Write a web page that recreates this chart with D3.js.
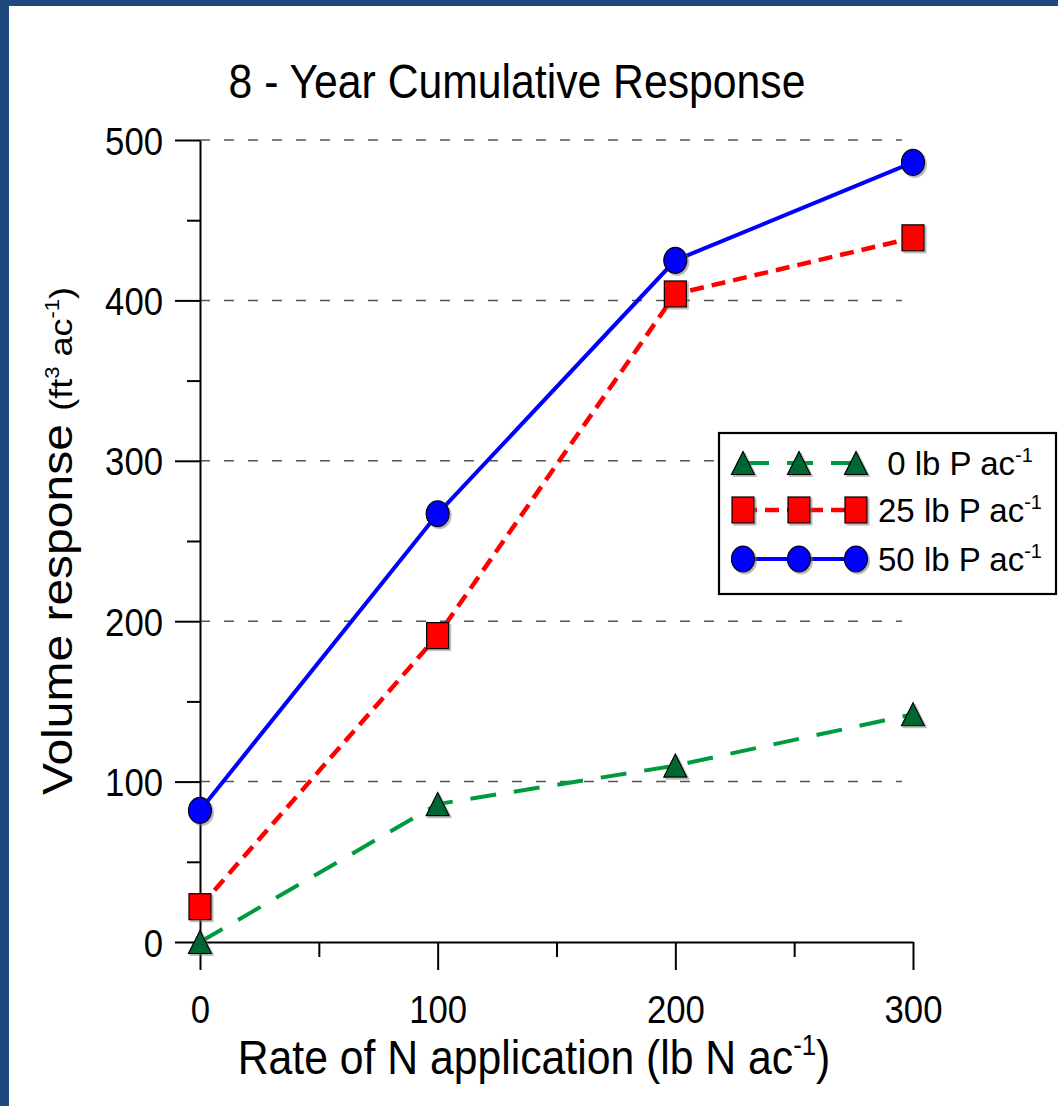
<!DOCTYPE html>
<html>
<head>
<meta charset="utf-8">
<script src="https://cdn.jsdelivr.net/npm/d3@7"></script>
<style>
  html, body { margin: 0; padding: 0; background: #ffffff; }
  svg { display: block; font-family: "Liberation Sans", Arial, sans-serif; }
</style>
</head>
<body>
<svg id="chart" width="1058" height="1106"></svg>
<script>
// ---- data ----
const nRates = [0, 100, 200, 300];
const p0Values = [0, 86, 110, 142];
const p25Values = [22, 191, 404, 439];
const p50Values = [82, 267, 425, 486];
const seriesLabels = ["0 lb P ac", "25 lb P ac", "50 lb P ac"];
const yMajorTicks = [0, 100, 200, 300, 400, 500];
const yMinorTicks = [50, 150, 250, 350, 450];
const yGridTicks = [100, 200, 300, 400, 500];
const xMajorTicks = [0, 100, 200, 300];
const xMinorTicks = [50, 150, 250];
const titleText = "8 - Year Cumulative Response";

// ---- layout ----
const W = 1058, H = 1106;
const svg = d3.select("#chart");
const SX = 0.89; // horizontal compression of the original rendering

svg.append("rect").attr("x", 0).attr("y", 0).attr("width", W).attr("height", H).attr("fill", "#ffffff");
svg.append("rect").attr("x", 0).attr("y", 0).attr("width", 9).attr("height", H).attr("fill", "#1F497D");
svg.append("rect").attr("x", 0).attr("y", 0).attr("width", W).attr("height", 6).attr("fill", "#1F497D");

const defs = svg.append("defs");
const f = defs.append("filter").attr("id", "shadow").attr("x", "-30%").attr("y", "-30%").attr("width", "170%").attr("height", "170%");
f.append("feDropShadow").attr("dx", 1.8).attr("dy", 1.8).attr("stdDeviation", 0.7)
  .attr("flood-color", "#777").attr("flood-opacity", 0.55);

const x = d3.scaleLinear().domain([0, 300]).range([200, 913]);
const y = d3.scaleLinear().domain([0, 500]).range([942, 140]);

// ---- gridlines ----
svg.append("g").selectAll("line").data(yGridTicks).join("line")
  .attr("x1", x(0)).attr("x2", 902)
  .attr("y1", d => y(d)).attr("y2", d => y(d))
  .attr("stroke", "#555").attr("stroke-width", 1.5)
  .attr("stroke-dasharray", "10,14");

// ---- axes ----
const yAxis = d3.axisLeft(y).tickValues(yMajorTicks).tickSize(25).tickSizeOuter(0).tickPadding(12);
const gy = svg.append("g").attr("transform", `translate(${x(0)},0)`).call(yAxis);
gy.select(".domain").attr("stroke", "#000").attr("stroke-width", 2);
gy.selectAll(".tick line").attr("stroke", "#000").attr("stroke-width", 2);
gy.selectAll(".tick text")
  .attr("font-size", 39).attr("fill", "#000")
  .attr("x", -37 / SX).attr("dy", "0.36em")
  .attr("transform", `scale(${SX},1)`)
  .style("font-family", "'Liberation Sans', Arial, sans-serif");

const yAxisMinor = d3.axisLeft(y).tickValues(yMinorTicks).tickSize(13).tickSizeOuter(0).tickFormat("");
const gym = svg.append("g").attr("transform", `translate(${x(0)},0)`).call(yAxisMinor);
gym.select(".domain").remove();
gym.selectAll(".tick line").attr("stroke", "#000").attr("stroke-width", 2);

const xAxis = d3.axisBottom(x).tickValues(xMajorTicks).tickSize(28).tickSizeOuter(0).tickPadding(25);
const gx = svg.append("g").attr("transform", `translate(0,${y(0)})`).call(xAxis);
gx.select(".domain").attr("stroke", "#000").attr("stroke-width", 2);
gx.selectAll(".tick line").attr("stroke", "#000").attr("stroke-width", 2);
gx.selectAll(".tick text")
  .attr("font-size", 39).attr("fill", "#000")
  .attr("transform", `scale(${SX},1)`)
  .style("font-family", "'Liberation Sans', Arial, sans-serif");

const xAxisMinor = d3.axisBottom(x).tickValues(xMinorTicks).tickSize(15).tickSizeOuter(0).tickFormat("");
const gxm = svg.append("g").attr("transform", `translate(0,${y(0)})`).call(xAxisMinor);
gxm.select(".domain").remove();
gxm.selectAll(".tick line").attr("stroke", "#000").attr("stroke-width", 2);

// ---- series ----
const series = [
  { vals: p0Values, color: "#009A3E", width: 4, dash: "26,18", marker: "tri", fill: "#006633" },
  { vals: p25Values, color: "#FF0000", width: 4.5, dash: "14,8", marker: "sq", fill: "#FF0000" },
  { vals: p50Values, color: "#0000FF", width: 4, dash: null, marker: "circ", fill: "#0000FF" }
];

const line = d3.line().x(d => x(d[0])).y(d => y(d[1]));

function drawMarker(g, type, cx, cy, fill) {
  let m;
  if (type === "circ") {
    m = g.append("ellipse").attr("cx", cx).attr("cy", cy).attr("rx", 11.5).attr("ry", 13);
  } else if (type === "sq") {
    m = g.append("rect").attr("x", cx - 11).attr("y", cy - 13).attr("width", 22).attr("height", 26);
  } else {
    const p = d3.path();
    p.moveTo(cx, cy - 11.5);
    p.lineTo(cx + 11.5, cy + 11.5);
    p.lineTo(cx - 11.5, cy + 11.5);
    p.closePath();
    m = g.append("path").attr("d", p.toString());
  }
  m.attr("fill", fill).attr("stroke", "#000").attr("stroke-width", 1.2).attr("filter", "url(#shadow)");
}

series.forEach(s => {
  const pts = nRates.map((r, i) => [r, s.vals[i]]);
  svg.append("path").datum(pts)
    .attr("d", line)
    .attr("fill", "none")
    .attr("stroke", s.color)
    .attr("stroke-width", s.width)
    .attr("stroke-dasharray", s.dash);
});
series.forEach(s => {
  const g = svg.append("g");
  nRates.forEach((r, i) => drawMarker(g, s.marker, x(r), y(s.vals[i]), s.fill));
});

// ---- legend ----
const leg = svg.append("g");
leg.append("rect").attr("x", 719).attr("y", 433).attr("width", 337).attr("height", 161)
  .attr("fill", "#fff").attr("stroke", "#000").attr("stroke-width", 2.2);
const legRowY = [463, 510, 559];
const legMarkX = [743, 799, 856];
series.forEach((s, i) => {
  const ly = legRowY[i];
  leg.append("line").attr("x1", legMarkX[0]).attr("x2", legMarkX[2])
    .attr("y1", ly).attr("y2", ly)
    .attr("stroke", s.color).attr("stroke-width", s.width)
    .attr("stroke-dasharray", s.dash);
  legMarkX.forEach(mx => drawMarker(leg, s.marker, mx, ly, s.fill));
  const t = leg.append("text").attr("x", 960).attr("y", ly + 12)
    .attr("text-anchor", "middle").attr("font-size", 33).attr("fill", "#000");
  t.append("tspan").text(seriesLabels[i]);
  t.append("tspan").attr("font-size", 20).attr("dy", -13).text("-1");
});

// ---- title ----
svg.append("text")
  .attr("transform", `translate(517,98) scale(${SX},1)`)
  .attr("text-anchor", "middle").attr("font-size", 48).attr("fill", "#000")
  .text(titleText);

// ---- x label ----
const xl = svg.append("text")
  .attr("transform", `translate(534,1074) scale(${SX},1)`)
  .attr("text-anchor", "middle").attr("font-size", 48).attr("fill", "#000");
xl.append("tspan").text("Rate of N application (lb N ac");
xl.append("tspan").attr("font-size", 29).attr("dy", -19).text("-1");
xl.append("tspan").attr("dy", 19).text(")");

// ---- y label ----
const yl = svg.append("text")
  .attr("transform", `translate(72,541) scale(${SX},1) rotate(-90)`)
  .attr("text-anchor", "middle").attr("font-size", 48).attr("fill", "#000");
yl.append("tspan").text("Volume response ");
yl.append("tspan").attr("font-size", 36).text("(ft");
yl.append("tspan").attr("font-size", 22).attr("dy", -15).text("3");
yl.append("tspan").attr("font-size", 36).attr("dy", 15).text(" ac");
yl.append("tspan").attr("font-size", 22).attr("dy", -15).text("-1");
yl.append("tspan").attr("font-size", 36).attr("dy", 15).text(")");
</script>
</body>
</html>
